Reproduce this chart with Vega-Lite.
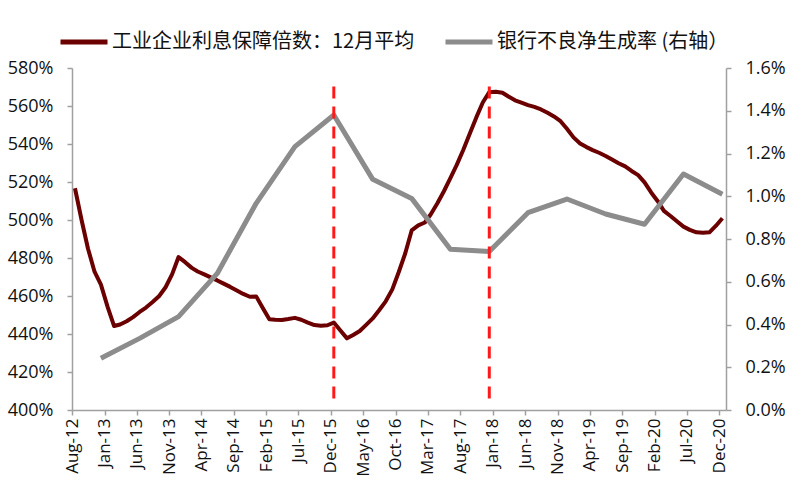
{
  "$schema": "https://vega.github.io/schema/vega-lite/v6.json",
  "width": 654,
  "height": 342,
  "autosize": "none",
  "padding": {"left": 72, "top": 68, "right": 67, "bottom": 74},
  "background": "white",
  "config": {
    "view": {"stroke": null},
    "font": "Open Sans",
    "axis": {
      "grid": false,
      "domainColor": "#A0A0A0",
      "tickColor": "#A0A0A0",
      "domainWidth": 1.5,
      "tickWidth": 1.5,
      "tickSize": 5,
      "labelColor": "#111111",
      "labelFont": "Open Sans",
      "labelFontSize": 18,
      "title": null
    },
    "axisX": {"labelOverlap": false}
  },
  "datasets": {
    "coverage": [
      {"date": "2012-08-15", "value": 516.7},
      {"date": "2012-09-15", "value": 500.0},
      {"date": "2012-10-15", "value": 485.0},
      {"date": "2012-11-15", "value": 472.8},
      {"date": "2012-12-15", "value": 466.0},
      {"date": "2013-01-15", "value": 454.4},
      {"date": "2013-02-15", "value": 444.2},
      {"date": "2013-03-15", "value": 445.0},
      {"date": "2013-04-15", "value": 446.7},
      {"date": "2013-05-15", "value": 448.9},
      {"date": "2013-06-15", "value": 451.6},
      {"date": "2013-07-15", "value": 453.9},
      {"date": "2013-08-15", "value": 456.8},
      {"date": "2013-09-15", "value": 460.0},
      {"date": "2013-10-15", "value": 464.6},
      {"date": "2013-11-15", "value": 471.5},
      {"date": "2013-12-15", "value": 480.5},
      {"date": "2014-01-15", "value": 477.8},
      {"date": "2014-02-15", "value": 474.8},
      {"date": "2014-03-15", "value": 472.9},
      {"date": "2014-04-15", "value": 471.4},
      {"date": "2014-05-15", "value": 469.8},
      {"date": "2014-06-15", "value": 468.2},
      {"date": "2014-07-15", "value": 466.5},
      {"date": "2014-08-15", "value": 464.8},
      {"date": "2014-09-15", "value": 462.9},
      {"date": "2014-10-15", "value": 461.1},
      {"date": "2014-11-15", "value": 459.6},
      {"date": "2014-12-15", "value": 459.8},
      {"date": "2015-01-15", "value": 453.7},
      {"date": "2015-02-15", "value": 447.7},
      {"date": "2015-03-15", "value": 447.5},
      {"date": "2015-04-15", "value": 447.4},
      {"date": "2015-05-15", "value": 447.9},
      {"date": "2015-06-15", "value": 448.5},
      {"date": "2015-07-15", "value": 447.5},
      {"date": "2015-08-15", "value": 446.0},
      {"date": "2015-09-15", "value": 444.7},
      {"date": "2015-10-15", "value": 444.3},
      {"date": "2015-11-15", "value": 444.6},
      {"date": "2015-12-15", "value": 446.0},
      {"date": "2016-01-15", "value": 441.8},
      {"date": "2016-02-15", "value": 437.7},
      {"date": "2016-03-15", "value": 439.5},
      {"date": "2016-04-15", "value": 441.6},
      {"date": "2016-05-15", "value": 444.8},
      {"date": "2016-06-15", "value": 448.2},
      {"date": "2016-07-15", "value": 452.5},
      {"date": "2016-08-15", "value": 457.2},
      {"date": "2016-09-15", "value": 463.5},
      {"date": "2016-10-15", "value": 472.5},
      {"date": "2016-11-15", "value": 482.5},
      {"date": "2016-12-15", "value": 494.5},
      {"date": "2017-01-15", "value": 497.2},
      {"date": "2017-02-15", "value": 498.7},
      {"date": "2017-03-15", "value": 503.0},
      {"date": "2017-04-15", "value": 508.8},
      {"date": "2017-05-15", "value": 515.0},
      {"date": "2017-06-15", "value": 522.0},
      {"date": "2017-07-15", "value": 529.0},
      {"date": "2017-08-15", "value": 537.0},
      {"date": "2017-09-15", "value": 545.6},
      {"date": "2017-10-15", "value": 554.0},
      {"date": "2017-11-15", "value": 562.0},
      {"date": "2017-12-15", "value": 567.3},
      {"date": "2018-01-15", "value": 567.5},
      {"date": "2018-02-15", "value": 567.0},
      {"date": "2018-03-15", "value": 565.0},
      {"date": "2018-04-15", "value": 563.0},
      {"date": "2018-05-15", "value": 561.8},
      {"date": "2018-06-15", "value": 560.5},
      {"date": "2018-07-15", "value": 559.5},
      {"date": "2018-08-15", "value": 558.2},
      {"date": "2018-09-15", "value": 556.4},
      {"date": "2018-10-15", "value": 554.5},
      {"date": "2018-11-15", "value": 552.0},
      {"date": "2018-12-15", "value": 548.0},
      {"date": "2019-01-15", "value": 543.5},
      {"date": "2019-02-15", "value": 540.3},
      {"date": "2019-03-15", "value": 538.5},
      {"date": "2019-04-15", "value": 536.8},
      {"date": "2019-05-15", "value": 535.4},
      {"date": "2019-06-15", "value": 533.7},
      {"date": "2019-07-15", "value": 531.8},
      {"date": "2019-08-15", "value": 529.9},
      {"date": "2019-09-15", "value": 528.2},
      {"date": "2019-10-15", "value": 525.8},
      {"date": "2019-11-15", "value": 523.6},
      {"date": "2019-12-15", "value": 519.8},
      {"date": "2020-01-15", "value": 514.5},
      {"date": "2020-02-15", "value": 509.9},
      {"date": "2020-03-15", "value": 504.8},
      {"date": "2020-04-15", "value": 502.1},
      {"date": "2020-05-15", "value": 499.3},
      {"date": "2020-06-15", "value": 496.5},
      {"date": "2020-07-15", "value": 494.8},
      {"date": "2020-08-15", "value": 493.5},
      {"date": "2020-09-15", "value": 493.3},
      {"date": "2020-10-15", "value": 493.5},
      {"date": "2020-11-15", "value": 497.0},
      {"date": "2020-12-15", "value": 500.9}
    ],
    "npl": [
      {"date": "2012-12-15", "rate": 0.242},
      {"date": "2013-06-15", "rate": 0.335},
      {"date": "2013-12-15", "rate": 0.437},
      {"date": "2014-06-15", "rate": 0.639},
      {"date": "2014-12-15", "rate": 0.967},
      {"date": "2015-06-15", "rate": 1.232},
      {"date": "2015-12-15", "rate": 1.380},
      {"date": "2016-06-15", "rate": 1.079},
      {"date": "2016-12-15", "rate": 0.990},
      {"date": "2017-06-15", "rate": 0.752},
      {"date": "2017-12-15", "rate": 0.741},
      {"date": "2018-06-15", "rate": 0.923},
      {"date": "2018-12-15", "rate": 0.987},
      {"date": "2019-06-15", "rate": 0.917},
      {"date": "2019-12-15", "rate": 0.869},
      {"date": "2020-06-15", "rate": 1.104},
      {"date": "2020-12-15", "rate": 1.009}
    ],
    "events": [
      {"date": "2015-12-15"},
      {"date": "2017-12-15"}
    ]
  },
  "layer": [
    {
      "data": {"name": "coverage"},
      "mark": {"type": "line", "strokeWidth": 4, "strokeJoin": "round"},
      "encoding": {
        "x": {
          "field": "date",
          "type": "temporal",
          "scale": {
            "type": "utc",
            "domain": [
              {"year": 2012, "month": 8, "date": 1, "utc": true},
              {"year": 2021, "month": 1, "date": 1, "utc": true}
            ]
          },
          "axis": {
            "values": [
              {"year": 2012, "month": 8, "date": 1, "utc": true},
              {"year": 2013, "month": 1, "date": 1, "utc": true},
              {"year": 2013, "month": 6, "date": 1, "utc": true},
              {"year": 2013, "month": 11, "date": 1, "utc": true},
              {"year": 2014, "month": 4, "date": 1, "utc": true},
              {"year": 2014, "month": 9, "date": 1, "utc": true},
              {"year": 2015, "month": 2, "date": 1, "utc": true},
              {"year": 2015, "month": 7, "date": 1, "utc": true},
              {"year": 2015, "month": 12, "date": 1, "utc": true},
              {"year": 2016, "month": 5, "date": 1, "utc": true},
              {"year": 2016, "month": 10, "date": 1, "utc": true},
              {"year": 2017, "month": 3, "date": 1, "utc": true},
              {"year": 2017, "month": 8, "date": 1, "utc": true},
              {"year": 2018, "month": 1, "date": 1, "utc": true},
              {"year": 2018, "month": 6, "date": 1, "utc": true},
              {"year": 2018, "month": 11, "date": 1, "utc": true},
              {"year": 2019, "month": 4, "date": 1, "utc": true},
              {"year": 2019, "month": 9, "date": 1, "utc": true},
              {"year": 2020, "month": 2, "date": 1, "utc": true},
              {"year": 2020, "month": 7, "date": 1, "utc": true},
              {"year": 2020, "month": 12, "date": 1, "utc": true}
            ],
            "tickCount": 30,
            "format": "%b-%y",
            "labelAngle": -90,
            "labelFontSize": 17,
            "labelPadding": 3,
            "labelOverlap": false,
            "labelFlush": false
          }
        },
        "y": {
          "field": "value",
          "type": "quantitative",
          "scale": {"domain": [400, 580]},
          "axis": {
            "orient": "left",
            "values": [400, 420, 440, 460, 480, 500, 520, 540, 560, 580],
            "tickCount": 12,
            "labelExpr": "datum.value + '%'",
            "labelPadding": 14
          }
        },
        "color": {
          "datum": "工业企业利息保障倍数：12月平均",
          "type": "nominal",
          "scale": {
            "domain": ["工业企业利息保障倍数：12月平均", "银行不良净生成率 (右轴）"],
            "range": ["#6B0000", "#8C8C8C"]
          },
          "legend": {
            "orient": "none",
            "legendX": -14,
            "legendY": -52,
            "direction": "horizontal",
            "title": null,
            "padding": 0,
            "symbolType": "stroke",
            "symbolSize": 2209,
            "symbolStrokeWidth": 5,
            "labelFont": "Noto Sans CJK SC",
            "labelFontSize": 20,
            "labelColor": "#111111",
            "labelOffset": 2,
            "labelLimit": 500,
            "columnPadding": 20
          }
        }
      }
    },
    {
      "data": {"name": "npl"},
      "mark": {"type": "line", "strokeWidth": 5, "strokeJoin": "round"},
      "encoding": {
        "x": {"field": "date", "type": "temporal", "axis": {"labelOverlap": false, "tickCount": 30}},
        "y": {
          "field": "rate",
          "type": "quantitative",
          "scale": {"domain": [0, 1.6]},
          "axis": {
            "orient": "right",
            "values": [0, 0.2, 0.4, 0.6, 0.8, 1.0, 1.2, 1.4, 1.6],
            "tickCount": 12,
            "labelExpr": "format(datum.value, '.1f') + '%'",
            "labelPadding": 14
          }
        },
        "color": {"datum": "银行不良净生成率 (右轴）", "type": "nominal"}
      }
    },
    {
      "data": {"name": "events"},
      "mark": {"type": "rule", "color": "#FF1A1A", "strokeWidth": 3, "strokeDash": [12, 8]},
      "encoding": {
        "x": {"field": "date", "type": "temporal", "axis": {"labelOverlap": false, "tickCount": 30}},
        "y": {"datum": 406, "type": "quantitative", "scale": {"domain": [400, 580]}, "axis": null},
        "y2": {"datum": 573}
      }
    }
  ],
  "resolve": {"scale": {"y": "independent"}}
}
